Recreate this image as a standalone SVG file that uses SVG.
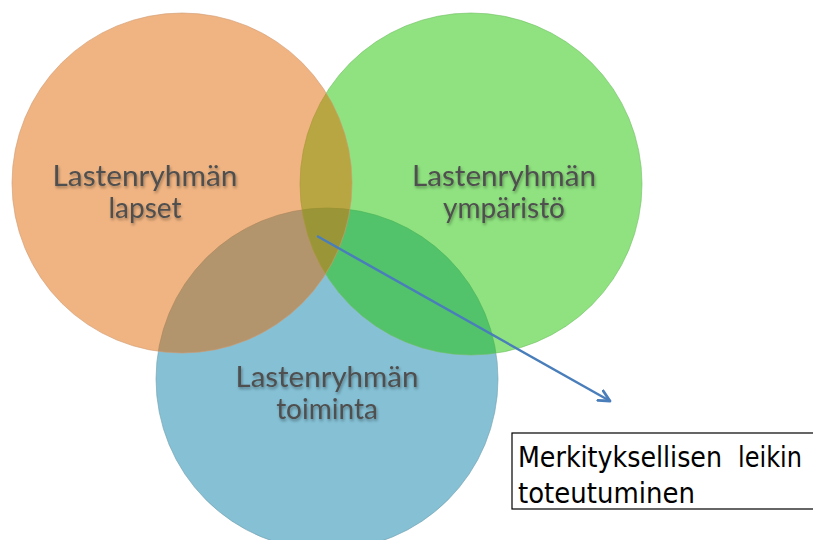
<svg xmlns="http://www.w3.org/2000/svg" width="813" height="540" viewBox="0 0 813 540">
<style>
.lbl{font-family:Lato,"Open Sans","DejaVu Sans",sans-serif;font-size:28px;fill:#4f4f4f;text-anchor:middle;filter:url(#sh)}
.box{font-family:"DejaVu Sans","Liberation Sans",sans-serif;font-size:28px;fill:#000}
</style>
<defs>
<filter id="sh" x="-10%" y="-20%" width="130%" height="160%">
<feGaussianBlur in="SourceAlpha" stdDeviation="1.5"/>
<feOffset dx="1" dy="2" result="b"/>
<feComponentTransfer><feFuncA type="linear" slope="0.35"/></feComponentTransfer>
<feMerge><feMergeNode/><feMergeNode in="SourceGraphic"/></feMerge>
</filter>
<marker id="ah" viewBox="0 0 14 14" refX="12" refY="7" markerWidth="14" markerHeight="14" markerUnits="userSpaceOnUse" orient="auto">
<path d="M1,1.5 L12,7 L1,12.5" fill="none" stroke="#4a7ebb" stroke-width="2.8" stroke-linejoin="round" stroke-linecap="round"/>
</marker>
</defs>
<rect width="813" height="540" fill="#fff"/>
<g id="blue">
<circle cx="327" cy="379" r="171" fill="rgb(11,129,169)" fill-opacity="0.5" stroke="#6f9fae" stroke-opacity="0.6"/>
</g>
<g id="green">
<circle cx="471" cy="184" r="171" fill="rgb(31,197,0)" fill-opacity="0.5" stroke="#6fbf62" stroke-opacity="0.6"/>
</g>
<g id="orange">
<circle cx="182" cy="183" r="170" fill="rgb(225,105,5)" fill-opacity="0.5" stroke="#d09a70" stroke-opacity="0.6"/>
</g>
<g id="labels">
<text class="lbl" x="145" y="186" textLength="185" lengthAdjust="spacingAndGlyphs">Lastenryhmän</text>
<text class="lbl" x="145" y="218">lapset</text>
<text class="lbl" x="504" y="186" textLength="184" lengthAdjust="spacingAndGlyphs">Lastenryhmän</text>
<text class="lbl" x="504" y="218">ympäristö</text>
<text class="lbl" x="327" y="387" textLength="183" lengthAdjust="spacingAndGlyphs">Lastenryhmän</text>
<text class="lbl" x="327" y="419">toiminta</text>
</g>
<g id="connectors">
<line x1="317" y1="236" x2="610" y2="401" stroke="#4a7ebb" stroke-width="2.5" marker-end="url(#ah)"/>
</g>
<g id="note">
<rect x="512" y="433" width="310" height="76" fill="#fff" stroke="#000" stroke-width="1.2"/>
<text class="box" x="518" y="467" textLength="204" lengthAdjust="spacingAndGlyphs">Merkityksellisen</text>
<text class="box" x="738" y="467" textLength="64" lengthAdjust="spacingAndGlyphs">leikin</text>
<text class="box" x="518" y="503" textLength="177" lengthAdjust="spacingAndGlyphs">toteutuminen</text>
</g>
</svg>
